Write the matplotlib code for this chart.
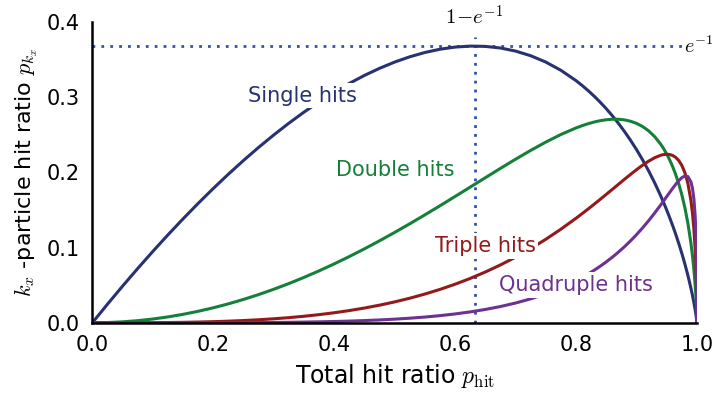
import matplotlib
matplotlib.use('Agg')
import matplotlib.pyplot as plt

plt.rcParams['mathtext.fontset'] = 'cm'
plt.rcParams['font.family'] = 'DejaVu Sans'

# total hit ratio p_hit
p_hit = [0.0, 0.025, 0.05, 0.075, 0.10, 0.125, 0.15, 0.175, 0.20, 0.225,
         0.25, 0.275, 0.30, 0.325, 0.35, 0.375, 0.40, 0.425, 0.45, 0.475,
         0.50, 0.525, 0.55, 0.575, 0.60, 0.625, 0.65, 0.675, 0.70, 0.725,
         0.75, 0.775, 0.80, 0.81, 0.82, 0.83, 0.84, 0.85, 0.86, 0.87,
         0.88, 0.89, 0.90, 0.91, 0.92, 0.93, 0.94, 0.945, 0.95, 0.955,
         0.96, 0.965, 0.97, 0.975, 0.98, 0.985, 0.99, 0.9925, 0.995, 0.997,
         0.998, 0.999, 1.0]

single = [0.0, 0.024685, 0.048728, 0.072115, 0.094825, 0.116840, 0.138141,
          0.158707, 0.178515, 0.197541, 0.215762, 0.233148, 0.249673,
          0.265304, 0.280009, 0.293753, 0.306496, 0.318196, 0.328810,
          0.338287, 0.346574, 0.353609, 0.359329, 0.363658, 0.366516,
          0.367811, 0.367438, 0.365277, 0.361192, 0.355021, 0.346574,
          0.335622, 0.321888, 0.315539, 0.308664, 0.301233, 0.293213,
          0.284568, 0.275256, 0.265229, 0.254432, 0.242800, 0.230259,
          0.216715, 0.202058, 0.186148, 0.168805, 0.159523, 0.149787,
          0.139549, 0.128755, 0.117334, 0.105197, 0.092222, 0.078240,
          0.062996, 0.046052, 0.036696, 0.026492, 0.017427, 0.012429,
          0.006908, 0.0]

double = [0.0, 0.0003125, 0.001250, 0.0028111, 0.004995, 0.0078009,
          0.011225, 0.015265, 0.019917, 0.025176, 0.031035, 0.037488,
          0.044526, 0.052138, 0.060312, 0.069033, 0.078283, 0.088043,
          0.098287, 0.108988, 0.120113, 0.131620, 0.143464, 0.155585,
          0.167918, 0.180380, 0.192872, 0.205273, 0.217433, 0.229163,
          0.240227, 0.250316, 0.259029, 0.262013, 0.264648, 0.266886,
          0.268668, 0.269930, 0.270592, 0.270563, 0.269732, 0.267963,
          0.265095, 0.260919, 0.255172, 0.247508, 0.237458, 0.231342,
          0.224361, 0.216377, 0.207223, 0.196675, 0.184440, 0.170098,
          0.153038, 0.132282, 0.106039, 0.089774, 0.070181, 0.050618,
          0.038621, 0.023859, 0.0]

triple = [0.0, 0.0000026, 0.0000214, 0.0000731, 0.000175, 0.000347,
          0.000608, 0.000979, 0.001481, 0.002139, 0.002976, 0.004019,
          0.005294, 0.006831, 0.008660, 0.010815, 0.013330, 0.016241,
          0.019587, 0.023409, 0.027752, 0.032661, 0.038186, 0.044376,
          0.051287, 0.058974, 0.067494, 0.076904, 0.087261, 0.098615,
          0.111008, 0.124462, 0.138964, 0.145044, 0.151273, 0.157637,
          0.164119, 0.170697, 0.177338, 0.184003, 0.190635, 0.197156,
          0.203466, 0.209426, 0.214832, 0.219397, 0.222689, 0.223663,
          0.224042, 0.223668, 0.222342, 0.219778, 0.215583, 0.209157,
          0.199563, 0.185182, 0.162776, 0.146417, 0.123947, 0.098016,
          0.080005, 0.054937, 0.0]

quadruple = [0.0, 0.0, 0.0000003, 0.0000014, 0.0000046, 0.0000116,
             0.0000247, 0.0000471, 0.0000826, 0.000136, 0.000214, 0.000323,
             0.000472, 0.000671, 0.000933, 0.001271, 0.001702, 0.002247,
             0.002927, 0.003771, 0.004809, 0.006079, 0.007623, 0.009493,
             0.011748, 0.014461, 0.017714, 0.021609, 0.026265, 0.031828,
             0.038473, 0.046414, 0.055914, 0.060220, 0.064851, 0.069831,
             0.075190, 0.080958, 0.087167, 0.093852, 0.101049, 0.108794,
             0.117124, 0.126072, 0.135651, 0.145858, 0.156629, 0.162179,
             0.167792, 0.173404, 0.178923, 0.184196, 0.188988, 0.192889,
             0.195174, 0.194427, 0.187403, 0.179100, 0.164178, 0.142347,
             0.124300, 0.094873, 0.0]

peak_x = 0.632121   # 1 - e^-1
peak_y = 0.367879   # e^-1

series = [single, double, triple, quadruple]
names = ['Single hits', 'Double hits', 'Triple hits', 'Quadruple hits']
colors = ['#283270', '#15803a', '#931a1a', '#6d3191']
label_pos = [(0.347, 0.302), (0.501, 0.203), (0.650, 0.102), (0.800, 0.050)]

fig = plt.figure(figsize=(7.13, 3.98), dpi=100)
ax = fig.add_axes([0.1295, 0.189, 0.848, 0.756])

dot = '#3150aa'
ax.plot([0, 1], [peak_y, peak_y], color=dot, lw=2, dashes=(1, 2.2), zorder=1)
ax.plot([peak_x, peak_x], [0, 0.38], color=dot, lw=2, dashes=(1, 2.2), zorder=1)

for ys, c in zip(series, colors):
    ax.plot(p_hit, ys, color=c, lw=2.2, zorder=2)

for name, c, (tx, ty) in zip(names, colors, label_pos):
    ax.text(tx, ty, name, color=c, fontsize=15, ha='center', va='center',
            zorder=3, bbox=dict(facecolor='white', edgecolor='none', pad=2))

ax.text(peak_x, 0.407, r'$1\!-\!e^{-1}$', fontsize=15, ha='center',
        va='center', clip_on=False)
ax.text(0.978, peak_y, r'$e^{-1}$', fontsize=14.5, ha='left', va='center',
        clip_on=False, zorder=3,
        bbox=dict(facecolor='white', edgecolor='none', pad=1))

ax.set_xlim(0, 1)
ax.set_ylim(0, 0.4)
ax.set_xticks([0.0, 0.2, 0.4, 0.6, 0.8, 1.0])
ax.set_yticks([0.0, 0.1, 0.2, 0.3, 0.4])
ax.tick_params(length=0, labelsize=15, pad=9)
for side in ['top', 'right']:
    ax.spines[side].set_visible(False)
for side in ['left', 'bottom']:
    ax.spines[side].set_linewidth(1.8)
    ax.spines[side].set_zorder(4)

ax.set_xlabel(r'Total hit ratio $p_{\mathrm{hit}}$', fontsize=17, labelpad=5)
ax.set_ylabel(r'$k_x$ -particle hit ratio $p_{k_x}$', fontsize=16, labelpad=5)

fig.savefig('out.png', dpi=100, facecolor='w')
